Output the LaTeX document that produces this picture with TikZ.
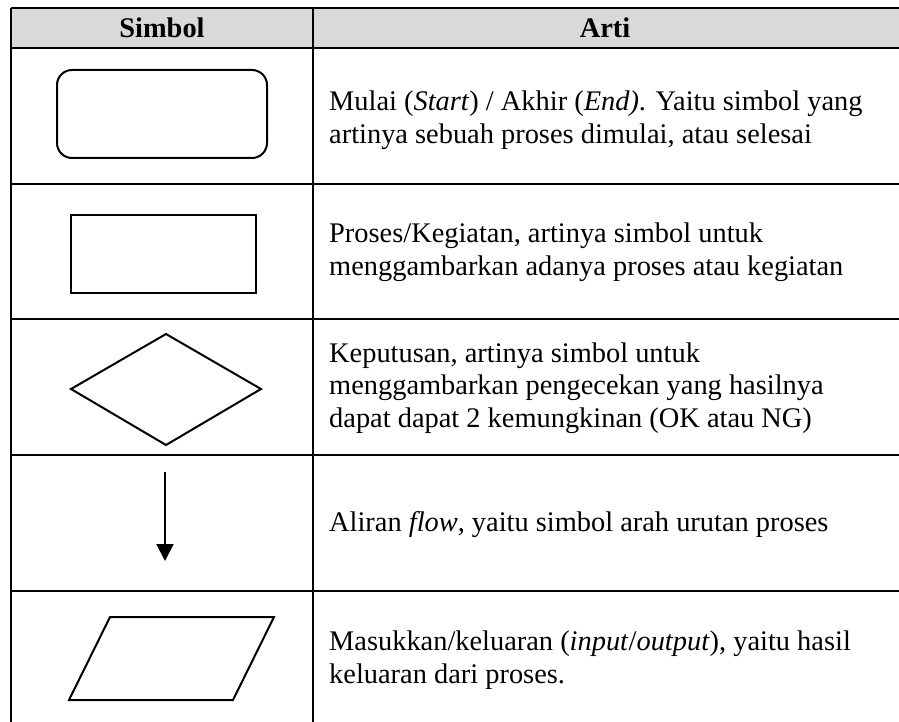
\documentclass[tikz,border=0pt]{standalone}
\usepackage{fontspec}
\setmainfont{Liberation Serif}
\usetikzlibrary{arrows.meta}
\definecolor{headgray}{HTML}{D9D9D9}
\begin{document}
\begin{tikzpicture}[x=1pt,y=-1pt,
  rule/.style={line width=2.6pt, black},
  symb/.style={draw=black, line width=2pt},
  desc/.style={anchor=west, align=left, inner sep=0pt,
    font=\fontsize{28.4}{32.5}\selectfont},
  head/.style={inner sep=0pt, font=\fontsize{28.4}{32.5}\selectfont\bfseries}]
\useasboundingbox (0,0) rectangle (899,722);

% header band
\fill[headgray] (11,8) rectangle (905,48);
\node[head] (hsym) at (162,28) {Simbol};
\node[head] (hart) at (605,28) {Arti};

% table rules
\draw[rule] (11,8) -- (905,8);
\draw[rule] (11,48) -- (905,48);
\foreach \yy in {184,319,455,591} \draw[rule] (11,\yy) -- (905,\yy);
\draw[rule] (11,8) -- (11,730);
\draw[rule] (313,8) -- (313,730);

% symbols
\draw[symb, rounded corners=15pt] (57,70) rectangle (267,158);
\node[symb, minimum width=185pt, minimum height=78pt, inner sep=0pt] (proc) at (163.5,254) {};
\draw[symb, line join=miter] (71,389) -- (166,334) -- (261,389) -- (166,445) -- cycle;
\coordinate (ftop) at (165,472);
\coordinate (fend) at (165,561);
\draw[line width=2pt, -{Triangle[length=17pt,width=17pt]}] (ftop) -- (fend);
\draw[symb, line join=miter] (110,617) -- (274,617) -- (233,700) -- (69,700) -- cycle;

% descriptions
\node[desc] (d1) at (329,120) {Mulai (\textit{Start}) / Akhir (\textit{End)}. Yaitu simbol yang\\artinya sebuah proses dimulai, atau selesai};
\node[desc] (d2) at (329,252) {Proses/Kegiatan, artinya simbol untuk\\menggambarkan adanya proses atau kegiatan};
\node[desc] (d3) at (329,388) {Keputusan, artinya simbol untuk\\menggambarkan pengecekan yang hasilnya\\dapat dapat 2 kemungkinan (OK atau NG)};
\node[desc] (d4) at (329,525) {Aliran \textit{flow}, yaitu simbol arah urutan proses};
\node[desc] (d5) at (329,660) {Masukkan/keluaran (\textit{input}/\textit{output}), yaitu hasil\\keluaran dari proses.};
\end{tikzpicture}
\end{document}
